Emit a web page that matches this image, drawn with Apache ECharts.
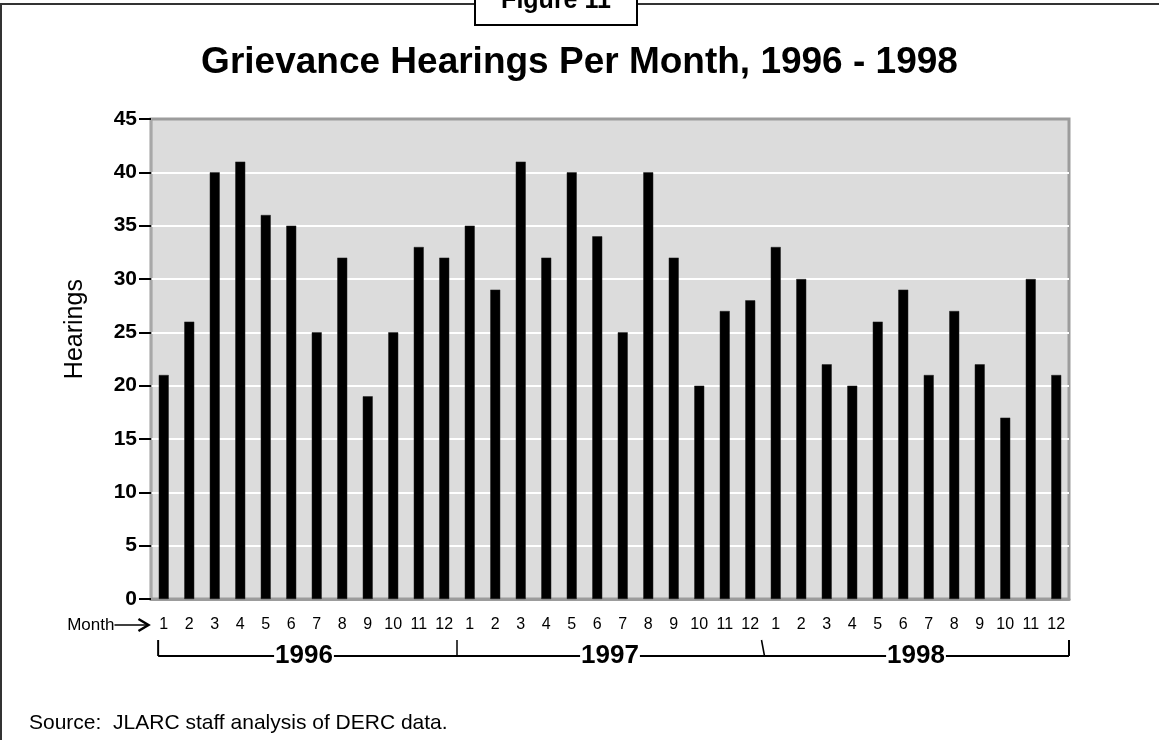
<!DOCTYPE html>
<html>
<head>
<meta charset="utf-8">
<script src="https://cdn.jsdelivr.net/npm/echarts@6/dist/echarts.min.js"></script>
<style>
  html, body { margin: 0; padding: 0; background: #ffffff; }
  #chart { width: 1159px; height: 740px; }
</style>
</head>
<body>
<div id="chart"></div>
<script>
// Monthly grievance hearings, grouped by year
const years = ['1996', '1997', '1998'];
const monthLabels = ['1', '2', '3', '4', '5', '6', '7', '8', '9', '10', '11', '12'];
const hearings1996 = [21, 26, 40, 41, 36, 35, 25, 32, 19, 25, 33, 32];
const hearings1997 = [35, 29, 41, 32, 40, 34, 25, 40, 32, 20, 27, 28];
const hearings1998 = [33, 30, 22, 20, 26, 29, 21, 27, 22, 17, 30, 21];
const yTicks = [0, 5, 10, 15, 20, 25, 30, 35, 40, 45];

const titleText = 'Grievance Hearings Per Month, 1996 - 1998';
const figureText = 'Figure 11';
const yAxisTitle = 'Hearings';
const sourceText = 'Source:  JLARC staff analysis of DERC data.';

const FONT = '"Liberation Sans", Arial, Helvetica, sans-serif';

const categories = [].concat(monthLabels, monthLabels, monthLabels);
const values = [].concat(hearings1996, hearings1997, hearings1998);

const chart = echarts.init(document.getElementById('chart'), null, { renderer: 'canvas' });

chart.setOption({
  animation: false,
  backgroundColor: '#ffffff',
  title: {
    text: titleText,
    left: 'center',
    top: 39,
    textStyle: { fontFamily: FONT, fontSize: 37, fontWeight: 'bold', color: '#000' }
  },
  grid: {
    left: 151, top: 119, right: 90, bottom: 141,
    show: true,
    backgroundColor: '#dcdcdc',
    borderColor: '#9c9c9c',
    borderWidth: 3
  },
  xAxis: {
    type: 'category',
    data: categories,
    axisTick: { show: false },
    axisLine: { show: true, lineStyle: { color: '#9c9c9c', width: 3 } },
    axisLabel: {
      interval: 0,
      margin: 18,
      fontFamily: FONT, fontSize: 16, color: '#000'
    },
    splitLine: { show: false }
  },
  yAxis: {
    type: 'value',
    min: yTicks[0],
    max: yTicks[yTicks.length - 1],
    interval: yTicks[1] - yTicks[0],
    axisLine: { show: true, lineStyle: { color: '#a8a8a8', width: 2 } },
    axisTick: { show: true, length: 12, lineStyle: { color: '#000', width: 2 } },
    axisLabel: {
      margin: 14,
      fontFamily: FONT, fontSize: 21, fontWeight: 'bold', color: '#000'
    },
    splitLine: {
      show: true,
      showMinLine: false,
      showMaxLine: false,
      lineStyle: { color: '#ffffff', width: 2 }
    }
  },
  series: [{
    type: 'bar',
    data: values,
    barWidth: 10,
    itemStyle: { color: '#000000', borderColor: '#222', borderWidth: 0.5 },
    silent: true
  }]
});

// Decorations placed from the axis scale: axis title, month pointer, year brackets, frame
function drawDecor() {
  const px = (i) => chart.convertToPixel({ xAxisIndex: 0 }, i);
  const py = (v) => chart.convertToPixel({ yAxisIndex: 0 }, v);
  const band = px(1) - px(0);
  const first = px(0);
  const last = px(categories.length - 1);
  const bottomY = py(0);
  const leftX = first - band / 2;
  const labelY = bottomY + 26;
  const bracketTop = bottomY + 41;
  const bracketY = bottomY + 57;
  const leftEnd = first - band * 0.22;
  const rightEnd = last + band * 0.5;

  const g = [];

  // outer frame (top rule and left edge)
  g.push({ type: 'line', shape: { x1: 0, y1: 4, x2: 1159, y2: 4 }, style: { stroke: '#333', lineWidth: 2 }, z: 10 });
  g.push({ type: 'line', shape: { x1: 1, y1: 4, x2: 1, y2: 740 }, style: { stroke: '#333', lineWidth: 2 }, z: 10 });

  // figure tab
  g.push({ type: 'rect', shape: { x: 475, y: -6, width: 162, height: 31 }, style: { fill: '#fff', stroke: '#000', lineWidth: 2 }, z: 11 });
  g.push({ type: 'text', x: 556, y: 1, style: { text: figureText, font: 'bold 25px ' + FONT, fill: '#000', align: 'center', verticalAlign: 'middle' }, z: 12 });

  // y axis title, set a little above the middle of the axis
  g.push({
    type: 'text', x: leftX - 76, y: py(25.3), rotation: Math.PI / 2,
    style: { text: yAxisTitle, font: '25px ' + FONT, fill: '#000', align: 'center', verticalAlign: 'middle' },
    z: 10
  });

  // "Month" with arrow pointing at the month labels
  const arrowTip = first - band * 0.6;
  g.push({ type: 'text', x: arrowTip - 34, y: labelY, style: { text: 'Month', font: '17px ' + FONT, fill: '#000', align: 'right', verticalAlign: 'middle' }, z: 10 });
  g.push({ type: 'line', shape: { x1: arrowTip - 34, y1: labelY, x2: arrowTip, y2: labelY }, style: { stroke: '#000', lineWidth: 1.5 }, z: 10 });
  g.push({ type: 'polyline', shape: { points: [[arrowTip - 10, labelY - 6], [arrowTip, labelY], [arrowTip - 10, labelY + 6]] }, style: { stroke: '#000', lineWidth: 2.5, fill: null }, z: 10 });

  // year bracket
  g.push({ type: 'line', shape: { x1: leftEnd, y1: bracketY, x2: rightEnd, y2: bracketY }, style: { stroke: '#000', lineWidth: 2 }, z: 10 });
  g.push({ type: 'line', shape: { x1: leftEnd, y1: bracketTop, x2: leftEnd, y2: bracketY }, style: { stroke: '#000', lineWidth: 2 }, z: 10 });
  g.push({ type: 'line', shape: { x1: rightEnd, y1: bracketTop, x2: rightEnd, y2: bracketY }, style: { stroke: '#000', lineWidth: 2 }, z: 10 });
  for (let k = 1; k < years.length; k++) {
    const bx = px(k * 12) - band / 2;
    const slant = k === 2 ? 3 : 0;
    g.push({ type: 'line', shape: { x1: bx - slant / 2, y1: bracketTop, x2: bx + slant / 2, y2: bracketY }, style: { stroke: '#000', lineWidth: 1.5 }, z: 10 });
  }
  years.forEach((yr, k) => {
    const cx = (px(k * 12) + px(k * 12 + 11)) / 2;
    g.push({
      type: 'text', x: cx, y: bracketY,
      style: {
        text: yr, font: 'bold 26px ' + FONT, fill: '#000',
        align: 'center', verticalAlign: 'middle',
        backgroundColor: '#fff', padding: [0, 1]
      },
      z: 11
    });
  });

  // source note
  g.push({ type: 'text', x: 29, y: 723, style: { text: sourceText, font: '21px ' + FONT, fill: '#000', align: 'left', verticalAlign: 'middle' }, z: 10 });

  chart.setOption({ graphic: { elements: g } });
}

drawDecor();
</script>
</body>
</html>
